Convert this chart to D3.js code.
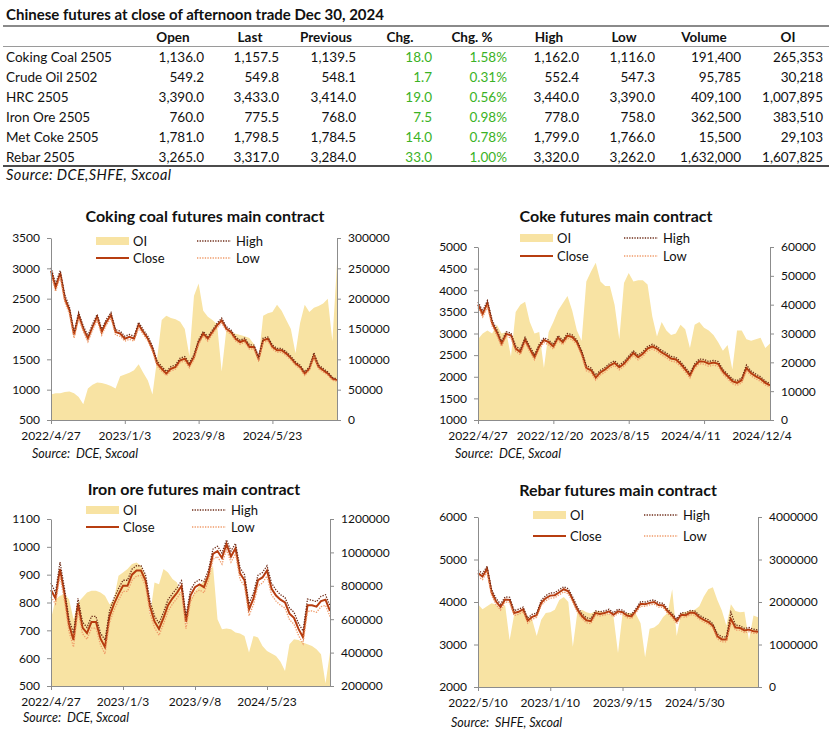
<!DOCTYPE html>
<html>
<head>
<meta charset="utf-8">
<script src="https://cdn.jsdelivr.net/npm/d3@7"></script>
<style>
  body { margin: 0; background: #fff; }
  svg text { font-family: Lato, "Open Sans", sans-serif; fill: #111; }
</style>
</head>
<body>
<svg id="page" width="837" height="743"></svg>
<script>
// ---- table ----
const tableTitle = "Chinese futures at close of afternoon trade Dec 30, 2024";
const tableHeads = ["Open", "Last", "Previous", "Chg.", "Chg. %", "High", "Low", "Volume", "OI"];
const contracts = ["Coking Coal 2505", "Crude Oil 2502", "HRC 2505", "Iron Ore 2505", "Met Coke 2505", "Rebar 2505"];
const openVals = [1136.0, 549.2, 3390.0, 760.0, 1781.0, 3265.0];
const lastVals = [1157.5, 549.8, 3433.0, 775.5, 1798.5, 3317.0];
const prevVals = [1139.5, 548.1, 3414.0, 768.0, 1784.5, 3284.0];
const chgVals = [18.0, 1.7, 19.0, 7.5, 14.0, 33.0];
const chgPctVals = [0.0158, 0.0031, 0.0056, 0.0098, 0.0078, 0.0100];
const highVals = [1162.0, 552.4, 3440.0, 778.0, 1799.0, 3320.0];
const lowVals = [1116.0, 547.3, 3390.0, 758.0, 1766.0, 3262.0];
const volumeVals = [191400, 95785, 409100, 362500, 15500, 1632000];
const oiVals = [265353, 30218, 1007895, 383510, 29103, 1607825];
const tableSource = "Source: DCE,SHFE, Sxcoal";

// ---- coking coal ----
const cokingTicks = ["2022/4/27", "2023/1/3", "2023/9/8", "2024/5/23"];
const cokingClose = [2960,2680,2920,2500,2310,1900,2225,2005,1840,2030,2200,1950,2115,2230,1950,1925,1840,1870,1840,2070,1950,1840,1675,1430,1345,1265,1345,1375,1485,1510,1400,1540,1785,1925,1840,1950,2060,2140,2005,1950,1840,1785,1815,1705,1705,1510,1815,1840,1705,1650,1650,1595,1520,1430,1375,1265,1345,1560,1375,1320,1265,1180,1157];
const cokingHigh = [3010,2750,2960,2560,2360,1950,2270,2050,1890,2080,2240,2000,2160,2270,1990,1965,1880,1910,1880,2110,1990,1880,1715,1470,1385,1300,1380,1410,1520,1545,1440,1575,1820,1960,1875,1985,2095,2180,2040,1985,1875,1815,1850,1740,1735,1545,1850,1870,1735,1680,1680,1625,1550,1460,1405,1295,1375,1610,1405,1350,1290,1205,1175];
const cokingLow = [2900,2620,2860,2440,2250,1850,2170,1960,1790,1980,2150,1900,2070,2180,1900,1880,1800,1830,1800,2020,1910,1800,1630,1390,1305,1230,1310,1340,1450,1470,1360,1500,1745,1885,1800,1915,2020,2100,1970,1915,1805,1750,1780,1670,1670,1475,1775,1805,1670,1615,1615,1560,1490,1400,1345,1235,1315,1530,1345,1290,1240,1155,1140];
const cokingOI = [42000,44000,44000,46000,47000,44000,38000,26000,52000,58000,62000,61000,59000,56000,52000,72000,75000,78000,82000,92000,78000,65000,42000,100000,165000,172000,168000,166000,162000,150000,105000,205000,225000,180000,170000,165000,158000,80000,148000,145000,142000,140000,138000,135000,125000,100000,172000,176000,178000,190000,180000,165000,150000,110000,160000,190000,178000,185000,188000,192000,200000,130000,258000];

// ---- coke ----
const cokeTicks = ["2022/4/27", "2022/12/20", "2023/8/15", "2024/4/11", "2024/12/4"];
const cokeClose = [3667,3450,3700,3240,3030,2760,2990,2960,2650,2570,2860,2640,2450,2700,2850,2800,2700,2900,2800,2950,2920,2800,2550,2200,2150,1980,2100,2170,2260,2320,2220,2300,2430,2550,2450,2530,2650,2700,2650,2560,2500,2420,2400,2300,2170,2030,2250,2360,2350,2300,2330,2300,2120,2010,1900,1860,1920,2200,2080,2010,1950,1860,1800];
const cokeHigh = [3730,3520,3760,3310,3090,2820,3040,3010,2710,2630,2910,2700,2510,2750,2900,2850,2750,2950,2850,3000,2970,2850,2610,2260,2200,2040,2150,2220,2310,2370,2270,2350,2480,2600,2500,2580,2700,2750,2700,2610,2550,2470,2450,2350,2220,2080,2300,2410,2400,2350,2380,2350,2170,2060,1950,1910,1970,2270,2130,2060,2000,1900,1840];
const cokeLow = [3600,3380,3620,3170,2960,2700,2930,2900,2590,2510,2800,2580,2390,2640,2790,2740,2640,2840,2740,2890,2860,2740,2490,2140,2090,1920,2040,2110,2200,2260,2160,2240,2370,2490,2390,2470,2590,2640,2590,2500,2440,2360,2340,2240,2110,1970,2190,2300,2290,2240,2270,2240,2060,1950,1840,1800,1860,2140,2020,1950,1890,1810,1760];
const cokeOI = [28000,30000,31000,30000,33000,30000,30500,22000,37500,40000,41000,34000,30000,30500,18000,30500,34000,38000,40500,43000,38000,31000,27500,48000,51500,54500,48000,46500,46500,40000,28000,47500,51000,48000,48500,48500,47000,36000,29000,34000,31000,29500,30000,33000,31500,25000,33000,34000,32000,31000,29500,27000,24000,26000,17500,31000,31000,28000,27500,28000,28500,25000,26500];

// ---- iron ore ----
const ironTicks = ["2022/4/27", "2023/1/3", "2023/9/8", "2024/5/23"];
const ironClose = [845,815,920,830,720,665,795,710,690,730,730,670,640,750,795,830,860,860,900,915,915,880,785,732,705,745,790,815,835,860,730,825,855,865,855,900,975,985,960,1010,965,995,905,880,775,815,880,890,915,850,825,810,800,760,745,705,675,790,790,785,805,810,770];
const ironHigh = [870,835,945,850,740,690,815,730,710,750,750,690,665,770,815,850,880,880,920,932,932,900,805,752,725,765,810,832,852,878,752,845,872,882,875,918,992,1002,978,1025,985,1012,925,900,795,835,898,908,932,870,845,828,818,780,765,725,698,812,808,803,822,828,788];
const ironLow = [820,795,895,805,695,640,770,688,668,708,708,648,615,728,772,808,840,840,880,895,897,860,762,710,682,722,768,795,815,840,706,803,835,845,835,880,955,965,938,990,945,975,883,858,752,793,860,870,895,828,805,790,780,738,722,682,652,768,770,765,785,790,750];
const ironOI = [600000,720000,740000,750000,720000,600000,700000,730000,760000,770000,770000,760000,740000,690000,720000,860000,880000,900000,930000,940000,920000,860000,620000,820000,810000,900000,880000,840000,820000,740000,560000,720000,770000,800000,830000,860000,920000,600000,540000,545000,540000,520000,515000,500000,400000,500000,490000,440000,410000,395000,380000,345000,290000,450000,480000,475000,460000,450000,440000,420000,390000,215000,400000];

// ---- rebar ----
const rebarTicks = ["2022/5/10", "2023/1/10", "2023/9/15", "2024/5/30"];
const rebarClose = [4680,4600,4780,4230,4010,3880,4060,4050,3740,3770,3830,3560,3650,3690,3980,4090,4150,4160,4230,4300,4250,4050,3820,3670,3570,3550,3740,3720,3740,3780,3700,3780,3760,3680,3660,3800,3960,3950,3980,4000,3930,3920,3780,3680,3550,3700,3690,3750,3740,3640,3580,3530,3440,3190,3120,3120,3600,3400,3390,3330,3350,3310,3300];
const rebarHigh = [4760,4670,4840,4300,4080,3950,4120,4110,3800,3830,3880,3620,3710,3740,4040,4150,4210,4220,4290,4360,4310,4110,3880,3730,3630,3610,3790,3770,3790,3830,3750,3830,3810,3730,3710,3850,4010,4000,4030,4050,3980,3970,3830,3730,3600,3750,3740,3800,3790,3690,3630,3580,3490,3250,3180,3180,3760,3460,3440,3380,3400,3360,3340];
const rebarLow = [4600,4530,4700,4160,3940,3810,4000,3990,3680,3710,3770,3500,3590,3640,3920,4030,4090,4100,4170,4240,4190,3990,3760,3610,3510,3490,3690,3670,3690,3730,3650,3730,3710,3630,3610,3750,3900,3900,3930,3950,3880,3870,3730,3630,3490,3650,3640,3700,3690,3590,3530,3480,3390,3130,3060,3060,3520,3340,3340,3280,3300,3260,3260];
const rebarOI = [1950000,1830000,1900000,1970000,1940000,1850000,1930000,1100000,1700000,1740000,1800000,1660000,1580000,1200000,1580000,1740000,1760000,1820000,2050000,2120000,2000000,950000,1760000,1820000,1760000,1730000,1780000,1790000,1740000,1720000,1660000,800000,1720000,1740000,1740000,1710000,1500000,700000,1370000,1400000,1480000,1650000,1750000,2300000,1200000,1740000,1770000,1800000,1820000,1900000,2130000,2300000,2350000,2050000,1800000,1450000,1950000,1790000,1760000,1770000,1100000,1680000,1640000];

const svg = d3.select("#page");

// ---------- table ----------
function drawTable() {
  const g = svg.append("g");
  const f1 = d3.format(",.1f"), f0 = d3.format(","), fp = d3.format(".2%");
  const cols = [
    {vals: openVals, fmt: f1, right: 204, head: 173},
    {vals: lastVals, fmt: f1, right: 279, head: 250},
    {vals: prevVals, fmt: f1, right: 356, head: 326},
    {vals: chgVals, fmt: f1, right: 432, head: 400, green: true},
    {vals: chgPctVals, fmt: fp, right: 507, head: 472, green: true},
    {vals: highVals, fmt: f1, right: 579, head: 549},
    {vals: lowVals, fmt: f1, right: 655, head: 624},
    {vals: volumeVals, fmt: f0, right: 741, head: 704},
    {vals: oiVals, fmt: f0, right: 823, head: 788}
  ];
  const rowY = i => 62 + i * 20;

  g.append("text").attr("x", 6).attr("y", 20)
    .style("font-size", "15px").style("font-weight", "bold").text(tableTitle);
  g.append("line").attr("x1", 3).attr("x2", 829).attr("y1", 26).attr("y2", 26)
    .attr("stroke", "#8a8a8a").attr("stroke-width", 2);

  g.selectAll("text.head").data(cols).join("text").attr("class", "head")
    .attr("x", d => d.head).attr("y", 42).attr("text-anchor", "middle")
    .style("font-size", "13.5px").style("font-weight", "bold")
    .text((d, i) => tableHeads[i]);
  g.append("line").attr("x1", 3).attr("x2", 829).attr("y1", 46.5).attr("y2", 46.5)
    .attr("stroke", "#9a9a9a").attr("stroke-width", 1);

  g.selectAll("text.name").data(contracts).join("text").attr("class", "name")
    .attr("x", 6).attr("y", (d, i) => rowY(i)).style("font-size", "13.5px").text(d => d);

  cols.forEach(c => {
    g.append("g").selectAll("text").data(c.vals).join("text")
      .attr("x", c.right).attr("y", (d, i) => rowY(i)).attr("text-anchor", "end")
      .style("font-size", "13.5px").style("fill", c.green ? "#3ab225" : "#111")
      .text(d => c.fmt(d));
  });
  g.append("line").attr("x1", 3).attr("x2", 829).attr("y1", 166).attr("y2", 166)
    .attr("stroke", "#111").attr("stroke-width", 1.5);
  g.append("text").attr("x", 6).attr("y", 180).style("font-size", "14.5px")
    .style("letter-spacing", "0.4px")
    .style("font-style", "italic").text(tableSource);
}

// ---------- small charts ----------
function drawChart(o) {
  const g = svg.append("g");
  const n = o.close.length;
  const x = d3.scaleLinear().domain([0, n - 1]).range([o.left, o.right]);
  const yL = d3.scaleLinear().domain(o.leftDomain).range([o.bottom, o.top]);
  const yR = d3.scaleLinear().domain(o.rightDomain).range([o.bottom, o.top]);

  g.append("text").attr("x", o.titleX).attr("y", o.titleY).attr("text-anchor", "middle")
    .style("font-size", "16px").style("font-weight", "bold").text(o.title);

  const area = d3.area().x((d, i) => x(i)).y0(o.bottom).y1(d => yR(d));
  g.append("path").datum(o.oi).attr("d", area).attr("fill", "#f8e3a3");

  const line = d3.line().x((d, i) => x(i)).y(d => yL(d));
  g.append("path").datum(o.close).attr("d", line).attr("fill", "none")
    .attr("stroke", "#b73d10").attr("stroke-width", 2);
  g.append("path").datum(o.high).attr("d", line).attr("fill", "none")
    .attr("stroke", "#6e2c18").attr("stroke-width", 1.3).attr("stroke-dasharray", "1.3,1.3");
  g.append("path").datum(o.low).attr("d", line).attr("fill", "none")
    .attr("stroke", "#ef9a68").attr("stroke-width", 1.3).attr("stroke-dasharray", "1.3,1.3");

  const styleAxis = a => {
    a.select(".domain").attr("stroke", "#8c8c8c");
    a.selectAll(".tick line").attr("stroke", "#8c8c8c");
    a.selectAll("text").style("font-size", "12px").style("fill", "#111")
      .style("font-family", "Lato, sans-serif");
  };
  g.append("g").attr("transform", `translate(${o.left},0)`)
    .call(d3.axisLeft(yL).tickValues(d3.range(o.leftDomain[0], o.leftDomain[1] + 1, o.leftStep))
      .tickFormat(d3.format("d")).tickSize(4).tickSizeOuter(0).tickPadding(7))
    .call(styleAxis);
  g.append("g").attr("transform", `translate(${o.right},0)`)
    .call(d3.axisRight(yR).tickValues(d3.range(o.rightDomain[0], o.rightDomain[1] + 1, o.rightStep))
      .tickFormat(d3.format("d")).tickSize(4).tickSizeOuter(0).tickPadding(7))
    .call(styleAxis);

  // tick marks every 16 points, labels at their own positions
  const tickIdx = [0, 16, 32, 48];
  g.append("g").attr("transform", `translate(0,${o.bottom})`)
    .call(d3.axisBottom(x).tickValues(tickIdx).tickFormat("").tickSize(4).tickSizeOuter(0))
    .call(styleAxis);
  g.append("g").selectAll("text").data(o.ticks).join("text")
    .attr("x", (d, i) => x(o.labelIdx[i])).attr("y", o.bottom + 20)
    .attr("text-anchor", "middle").style("font-size", "12px").text(d => d);

  // legend
  const lg = g.append("g").style("font-size", "13px");
  lg.append("rect").attr("x", o.legX).attr("y", o.leg1 - 4).attr("width", 33).attr("height", 8)
    .attr("fill", "#f8e3a3");
  lg.append("text").attr("x", o.legX + 37).attr("y", o.leg1 + 5).text("OI");
  lg.append("line").attr("x1", o.legX).attr("x2", o.legX + 33).attr("y1", o.leg2).attr("y2", o.leg2)
    .attr("stroke", "#b73d10").attr("stroke-width", 2);
  lg.append("text").attr("x", o.legX + 37).attr("y", o.leg2 + 5).text("Close");
  lg.append("line").attr("x1", o.hiX).attr("x2", o.hiX + 34).attr("y1", o.leg1).attr("y2", o.leg1)
    .attr("stroke", "#6e2c18").attr("stroke-width", 1.3).attr("stroke-dasharray", "1.3,1.3");
  lg.append("text").attr("x", o.hiX + 39).attr("y", o.leg1 + 5).text("High");
  lg.append("line").attr("x1", o.hiX).attr("x2", o.hiX + 34).attr("y1", o.leg2).attr("y2", o.leg2)
    .attr("stroke", "#ef9a68").attr("stroke-width", 1.3).attr("stroke-dasharray", "1.3,1.3");
  lg.append("text").attr("x", o.hiX + 39).attr("y", o.leg2 + 5).text("Low");

  g.append("text").attr("x", o.srcX).attr("y", o.srcY).style("font-size", "12.5px")
    .style("font-style", "italic").attr("xml:space", "preserve").text(o.source);
}

drawTable();

drawChart({
  title: "Coking coal futures main contract", titleX: 205, titleY: 222,
  left: 51, right: 337, top: 238, bottom: 420,
  leftDomain: [500, 3500], leftStep: 500, rightDomain: [0, 300000], rightStep: 50000,
  close: cokingClose, high: cokingHigh, low: cokingLow, oi: cokingOI,
  ticks: cokingTicks, labelIdx: [0, 16, 32, 48],
  legX: 96, hiX: 197, leg1: 241, leg2: 258,
  source: "Source:  DCE, Sxcoal", srcX: 32, srcY: 458
});
drawChart({
  title: "Coke futures main contract", titleX: 616, titleY: 222,
  left: 478, right: 770, top: 247, bottom: 420,
  leftDomain: [1000, 5000], leftStep: 500, rightDomain: [0, 60000], rightStep: 10000,
  close: cokeClose, high: cokeHigh, low: cokeLow, oi: cokeOI,
  ticks: cokeTicks, labelIdx: [0, 15.3, 30.1, 45.2, 60.3],
  legX: 520, hiX: 624, leg1: 238, leg2: 256,
  source: "Source:  DCE, Sxcoal", srcX: 455, srcY: 458
});
drawChart({
  title: "Iron ore futures main contract", titleX: 194, titleY: 495,
  left: 51, right: 330, top: 519, bottom: 686,
  leftDomain: [500, 1100], leftStep: 100, rightDomain: [200000, 1200000], rightStep: 200000,
  close: ironClose, high: ironHigh, low: ironLow, oi: ironOI,
  ticks: ironTicks, labelIdx: [0, 16, 32, 48],
  legX: 86, hiX: 192, leg1: 510, leg2: 527,
  source: "Source:  DCE, Sxcoal", srcX: 23, srcY: 722
});
drawChart({
  title: "Rebar futures main contract", titleX: 618, titleY: 496,
  left: 478, right: 758, top: 517, bottom: 687,
  leftDomain: [2000, 6000], leftStep: 1000, rightDomain: [0, 4000000], rightStep: 1000000,
  close: rebarClose, high: rebarHigh, low: rebarLow, oi: rebarOI,
  ticks: rebarTicks, labelIdx: [0, 16, 32, 48],
  legX: 533, hiX: 644, leg1: 515, leg2: 536,
  source: "Source:  SHFE, Sxcoal", srcX: 451, srcY: 727
});
</script>
</body>
</html>
